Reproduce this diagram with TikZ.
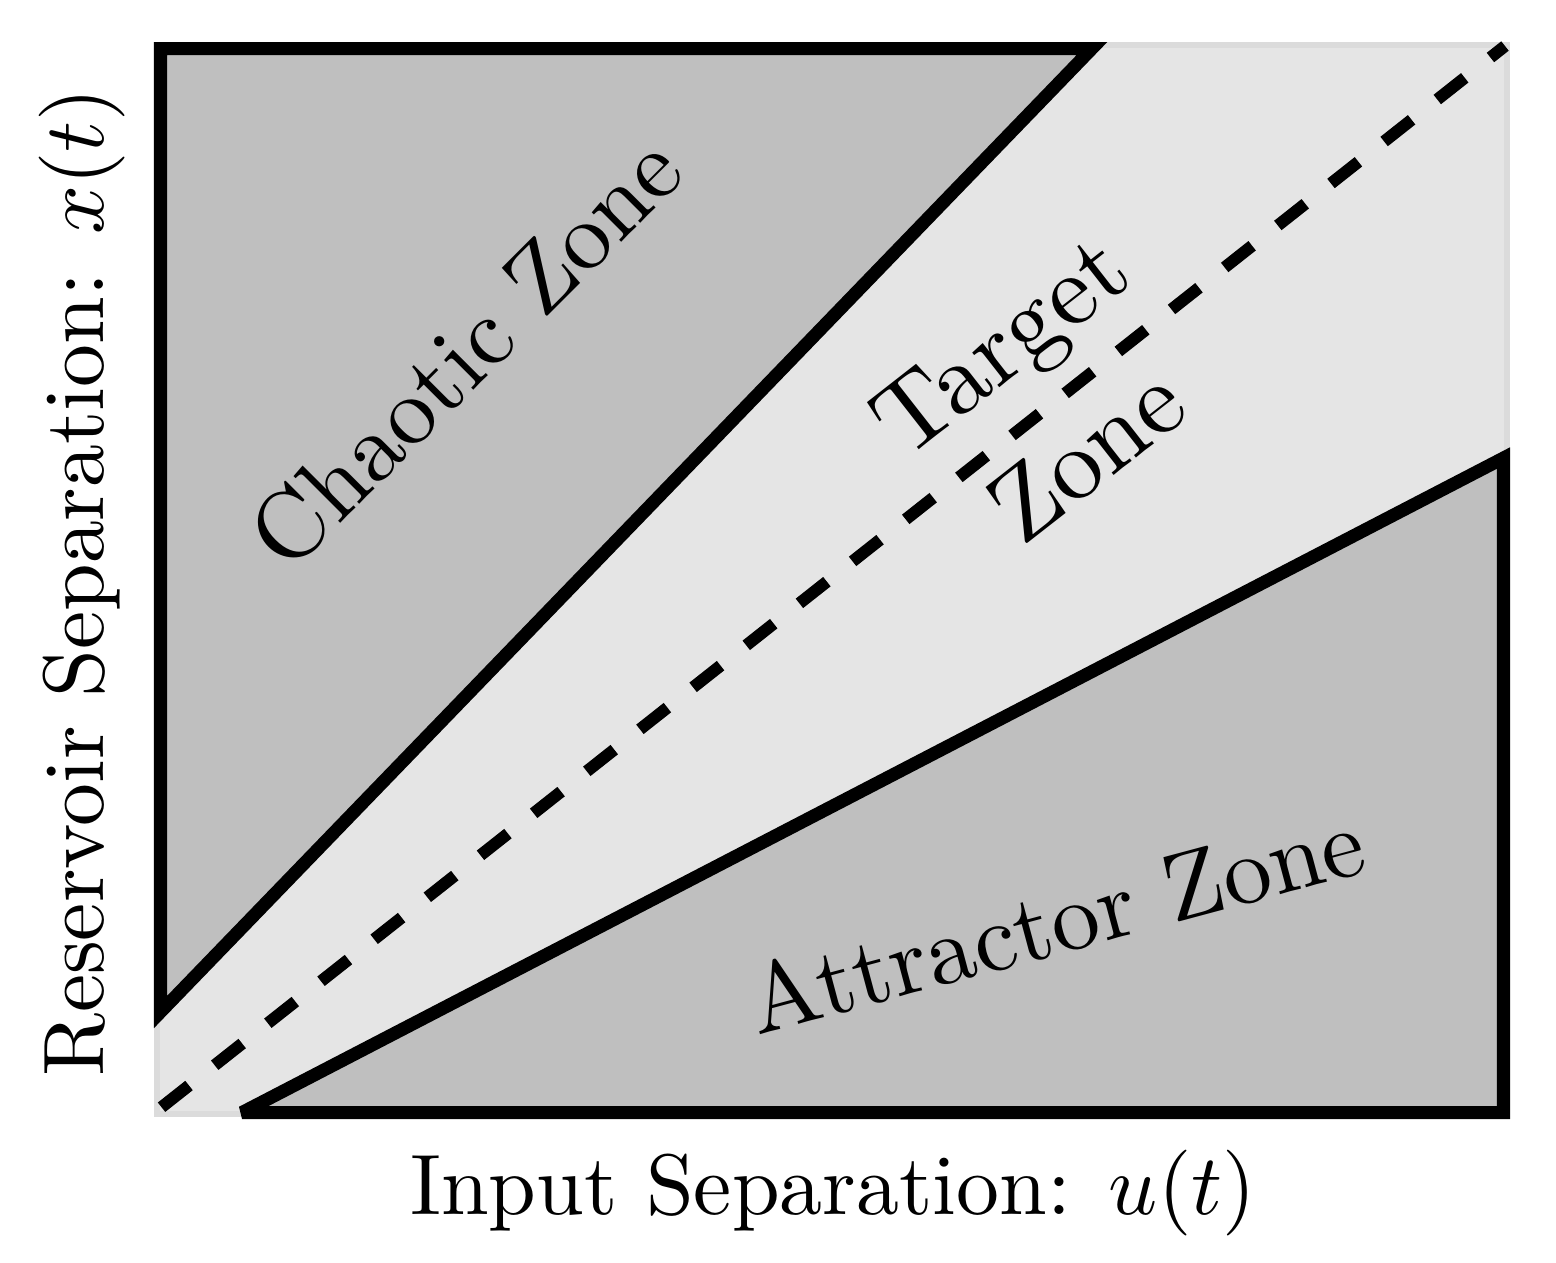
\documentclass[tikz,border=0pt]{standalone}
\usepackage{amsmath}
\usepackage{tikz}
\tikzset{
    zone/.style={fill=gray!50, draw=black, line width=0.13cm, line join=miter, miter limit=3},
    zonelabel/.style={font=\fontsize{10}{15}\selectfont, align=center, scale=2.75},
    axislabel/.style={font=\fontsize{10}{12}\selectfont, scale=2.44}
}

\begin{document}
\begin{tikzpicture}[x=0.01cm,y=-0.01cm]

% Canvas
\useasboundingbox (0,0) rectangle (1556,1262);

% Target region (background)
\draw[fill=gray!20, draw=gray!28, line width=0.06cm] (157,45) rectangle (1507,1114);

% Ends of the diagonal
\coordinate (O) at (158,1110);
\coordinate (E) at (1505,46);

% Chaotic zone
\draw[zone] (160.5,48.5) -- (1092,48.5) -- (160.5,1012) -- cycle;

% Attractor zone
\draw[zone] (242,1112.5) -- (1503.5,458) -- (1503.5,1112.5) -- cycle;

% Diagonal u = x
\draw[line width=0.12cm, dash pattern=on 0.35cm off 0.327cm, dash phase=0.632cm] (O) -- (E);

% Zone labels
\node[zonelabel, rotate=45] (chaotic) at (465,352) {Chaotic Zone};
\node[zonelabel, rotate=38, scale=2.9/2.75, font=\fontsize{10}{13.7}\selectfont] (target) at (1043,399) {Target\\Zone};
\node[zonelabel, rotate=15, anchor=base] (attractor) at (1064,953) {Attractor Zone};

% Axis labels
\node[axislabel] (xlabel) at (833,1193) {Input Separation: $u(t)$};
\node[axislabel, rotate=90] (ylabel) at (82,582) {Reservoir Separation: $x(t)$};

\end{tikzpicture}
\end{document}
